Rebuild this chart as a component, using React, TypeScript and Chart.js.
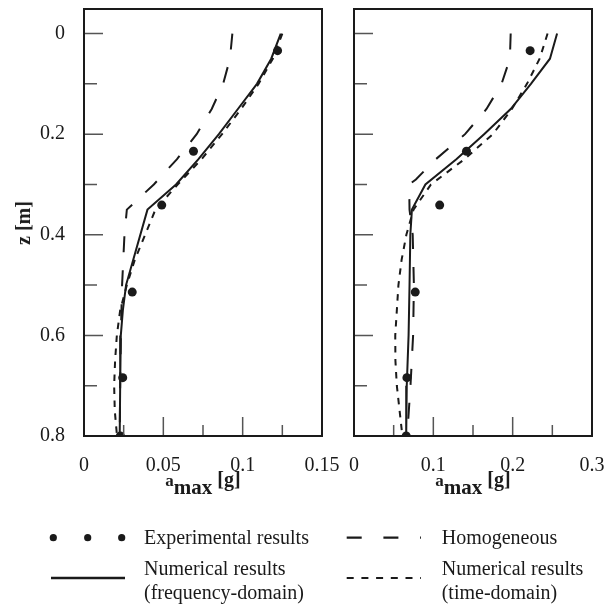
import React, { useEffect, useRef } from "react";
import { Chart, registerables } from "chart.js";

Chart.register(...registerables);

// ---------- data ----------
const depthExp = [0.034, 0.234, 0.341, 0.514, 0.684, 0.8];
const expLeft = [0.122, 0.069, 0.049, 0.0304, 0.0244, 0.0229];
const expRight = [0.222, 0.1418, 0.108, 0.0772, 0.0667, 0.0658];

const depthFreqLeft = [0, 0.05, 0.1, 0.15, 0.2, 0.25, 0.3, 0.35, 0.5, 0.55, 0.6, 0.7, 0.8];
const freqLeft = [0.124, 0.118, 0.109, 0.097, 0.085, 0.072, 0.058, 0.04, 0.0265, 0.0245, 0.0232, 0.0228, 0.0225];
const depthHomLeft = [0, 0.05, 0.1, 0.15, 0.2, 0.25, 0.3, 0.35, 0.4, 0.5, 0.6, 0.7, 0.8];
const homLeft = [0.0935, 0.092, 0.0877, 0.0805, 0.071, 0.0585, 0.044, 0.027, 0.0255, 0.024, 0.0232, 0.0228, 0.0225];
const depthTimeLeft = [0, 0.05, 0.1, 0.15, 0.2, 0.25, 0.3, 0.35, 0.4, 0.45, 0.5, 0.55, 0.6, 0.65, 0.7, 0.75, 0.8];
const timeLeft = [0.125, 0.119, 0.11, 0.099, 0.087, 0.074, 0.059, 0.045, 0.0385, 0.032, 0.027, 0.0228, 0.0207, 0.0196, 0.019, 0.0194, 0.0208];

const depthFreqRight = [0, 0.05, 0.1, 0.15, 0.2, 0.25, 0.3, 0.35, 0.4, 0.5, 0.6, 0.7, 0.8];
const freqRight = [0.256, 0.247, 0.223, 0.1975, 0.164, 0.129, 0.09, 0.073, 0.071, 0.07, 0.0688, 0.0665, 0.0658];
const depthHomRight = [0, 0.05, 0.1, 0.15, 0.2, 0.25, 0.29, 0.3, 0.35, 0.4, 0.5, 0.6, 0.7, 0.8];
const homRight = [0.1975, 0.1965, 0.186, 0.167, 0.14, 0.103, 0.078, 0.0695, 0.07, 0.074, 0.0755, 0.0745, 0.0712, 0.067];
const depthTimeRight = [0, 0.05, 0.1, 0.15, 0.2, 0.25, 0.3, 0.35, 0.4, 0.45, 0.5, 0.6, 0.65, 0.7, 0.75, 0.8];
const timeRight = [0.244, 0.234, 0.218, 0.199, 0.175, 0.139, 0.097, 0.075, 0.066, 0.06, 0.056, 0.052, 0.0522, 0.054, 0.0575, 0.061];

// ---------- axes ----------
const yTickLabels = [0, 0.2, 0.4, 0.6, 0.8];
const yMinorTicks = [0.1, 0.3, 0.5, 0.7];
const xTickLabelsLeft = [0, 0.05, 0.1, 0.15];
const xMajorLeft = [0.05, 0.1];
const xMinorLeft = [0.025, 0.075, 0.125];
const xTickLabelsRight = [0, 0.1, 0.2, 0.3];
const xMajorRight = [0.1, 0.2];
const xMinorRight = [0.05, 0.15, 0.25];

const seriesNames = [
  "Experimental results",
  "Numerical results (frequency-domain)",
  "Homogeneous",
  "Numerical results (time-domain)",
];

const SERIF = "'Liberation Serif', 'Times New Roman', serif";
const INK = "#1a1a1a";

const framePlugin = {
  id: "frame",
  afterDatasetsDraw(chart: any, _args: any, opts: any) {
    const { ctx, chartArea: a, scales } = chart;
    ctx.save();
    ctx.strokeStyle = "#555";
    ctx.lineWidth = 1.5;
    ctx.beginPath();
    for (const v of opts.yMajor) {
      const y = scales.y.getPixelForValue(v);
      ctx.moveTo(a.left, y);
      ctx.lineTo(a.left + 19, y);
    }
    for (const v of opts.yMinor) {
      const y = scales.y.getPixelForValue(v);
      ctx.moveTo(a.left, y);
      ctx.lineTo(a.left + 13, y);
    }
    for (const v of opts.xMajor) {
      const x = scales.x.getPixelForValue(v);
      ctx.moveTo(x, a.bottom);
      ctx.lineTo(x, a.bottom - 19);
    }
    for (const v of opts.xMinor) {
      const x = scales.x.getPixelForValue(v);
      ctx.moveTo(x, a.bottom);
      ctx.lineTo(x, a.bottom - 11);
    }
    ctx.stroke();
    ctx.strokeStyle = INK;
    ctx.lineWidth = 2;
    ctx.strokeRect(a.left, a.top, a.right - a.left, a.bottom - a.top);
    ctx.restore();
  },
};

function pts(xs: number[], ys: number[]) {
  return xs.map((x, i) => ({ x, y: ys[i] }));
}

function noOverflow(s: any) {
  s.paddingLeft = 0;
  s.paddingRight = 0;
  s.paddingTop = 0;
  s.paddingBottom = 0;
}

function makeConfig(p: any) {
  const tickFont = { family: SERIF, size: 20 };
  return {
    type: "scatter",
    data: {
      datasets: [
        {
          label: seriesNames[0],
          data: pts(p.exp, depthExp),
          showLine: false,
          pointRadius: 4.5,
          pointBackgroundColor: INK,
          pointBorderWidth: 0,
          order: 0,
        },
        {
          label: seriesNames[1],
          data: pts(p.freq, p.depthFreq),
          showLine: true,
          borderColor: INK,
          borderWidth: 2,
          pointRadius: 0,
          tension: 0,
          order: 1,
        },
        {
          label: seriesNames[2],
          data: pts(p.hom, p.depthHom),
          showLine: true,
          borderColor: INK,
          borderWidth: 2,
          borderDash: [16, 18],
          pointRadius: 0,
          tension: 0,
          order: 2,
        },
        {
          label: seriesNames[3],
          data: pts(p.time, p.depthTime),
          showLine: true,
          borderColor: INK,
          borderWidth: 2,
          borderDash: [6.5, 6.5],
          pointRadius: 0,
          tension: 0,
          order: 3,
        },
      ],
    },
    options: {
      responsive: false,
      animation: false,
      events: [],
      layout: { padding: p.padding },
      plugins: {
        legend: { display: false },
        tooltip: { enabled: false },
        frame: { yMajor: yTickLabels, yMinor: yMinorTicks, xMajor: p.xMajor, xMinor: p.xMinor },
      },
      scales: {
        x: {
          type: "linear",
          position: "bottom",
          min: 0,
          max: p.xMax,
          grid: { display: false, drawTicks: false },
          border: { display: false },
          ticks: {
            font: tickFont,
            color: INK,
            padding: 18,
            maxRotation: 0,
            autoSkip: false,
            callback: (v: number) => String(v),
          },
          afterBuildTicks: (s: any) => {
            s.ticks = p.xLabels.map((v: number) => ({ value: v }));
          },
          afterFit: (s: any) => {
            s.height = 40;
            noOverflow(s);
          },
        },
        y: {
          type: "linear",
          display: p.showY,
          min: -0.0488,
          max: 0.8,
          reverse: true,
          grid: { display: false, drawTicks: false },
          border: { display: false },
          ticks: {
            font: tickFont,
            color: INK,
            padding: 19,
            autoSkip: false,
            callback: (v: number) => String(v),
          },
          afterBuildTicks: (s: any) => {
            s.ticks = yTickLabels.map((v) => ({ value: v }));
          },
          afterFit: (s: any) => {
            s.width = p.showY ? 76 : 0;
            noOverflow(s);
          },
        },
      },
    },
    plugins: [framePlugin],
  };
}

export default function App() {
  const leftRef = useRef<HTMLCanvasElement>(null);
  const rightRef = useRef<HTMLCanvasElement>(null);

  useEffect(() => {
    const c1 = new Chart(
      leftRef.current as HTMLCanvasElement,
      makeConfig({
        exp: expLeft,
        freq: freqLeft,
        depthFreq: depthFreqLeft,
        hom: homLeft,
        depthHom: depthHomLeft,
        time: timeLeft,
        depthTime: depthTimeLeft,
        xMax: 0.15,
        xLabels: xTickLabelsLeft,
        xMajor: xMajorLeft,
        xMinor: xMinorLeft,
        showY: true,
        padding: { left: 8, top: 9, right: 23, bottom: 44 },
      }) as any
    );
    const c2 = new Chart(
      rightRef.current as HTMLCanvasElement,
      makeConfig({
        exp: expRight,
        freq: freqRight,
        depthFreq: depthFreqRight,
        hom: homRight,
        depthHom: depthHomRight,
        time: timeRight,
        depthTime: depthTimeRight,
        xMax: 0.3,
        xLabels: xTickLabelsRight,
        xMajor: xMajorRight,
        xMinor: xMinorRight,
        showY: false,
        padding: { left: 14, top: 9, right: 12, bottom: 44 },
      }) as any
    );
    return () => {
      c1.destroy();
      c2.destroy();
    };
  }, []);

  const text: React.CSSProperties = {
    position: "absolute",
    fontFamily: SERIF,
    fontSize: 20,
    color: INK,
    whiteSpace: "nowrap",
  };

  const xTitle = (left: number) => (
    <div
      style={{
        ...text,
        left,
        width: 238,
        top: 469,
        lineHeight: "20px",
        textAlign: "center",
        fontWeight: "bold",
      }}
    >
      <span style={{ fontSize: 17 }}>a</span>
      <span style={{ fontSize: 21, position: "relative", top: 8 }}>max</span>
      <span> [g]</span>
    </div>
  );

  return (
    <div
      style={{
        position: "absolute",
        left: 0,
        top: 0,
        width: 604,
        height: 608,
        background: "#fff",
        overflow: "hidden",
      }}
    >
      <canvas
        ref={leftRef}
        width={345}
        height={520}
        style={{ position: "absolute", left: 0, top: 0 }}
      />
      <canvas
        ref={rightRef}
        width={264}
        height={520}
        style={{ position: "absolute", left: 340, top: 0 }}
      />
      <div
        style={{
          ...text,
          left: 23,
          top: 223,
          fontWeight: "bold",
          lineHeight: "20px",
          transform: "translate(-50%, -50%) rotate(-90deg)",
        }}
      >
        z [m]
      </div>
      {xTitle(84)}
      {xTitle(354)}

      <svg
        width={604}
        height={608}
        style={{ position: "absolute", left: 0, top: 0, pointerEvents: "none" }}
      >
        <circle cx={53.3} cy={537.7} r={3.6} fill={INK} />
        <circle cx={87.7} cy={537.7} r={3.6} fill={INK} />
        <circle cx={121.7} cy={537.7} r={3.6} fill={INK} />
        <line x1={51} y1={578} x2={125} y2={578} stroke={INK} strokeWidth={2.3} />
        <line
          x1={346.7}
          y1={537.7}
          x2={421}
          y2={537.7}
          stroke={INK}
          strokeWidth={2.3}
          strokeDasharray="15 21.7"
        />
        <line
          x1={346.7}
          y1={578}
          x2={421}
          y2={578}
          stroke={INK}
          strokeWidth={2}
          strokeDasharray="7 7.7"
        />
      </svg>

      <div style={{ ...text, left: 144, top: 526, lineHeight: "23.5px" }}>{seriesNames[0]}</div>
      <div style={{ ...text, left: 441.7, top: 526, lineHeight: "23.5px" }}>{seriesNames[2]}</div>
      <div style={{ ...text, left: 144, top: 557.3, lineHeight: "23.5px" }}>
        Numerical results
        <br />
        (frequency-domain)
      </div>
      <div style={{ ...text, left: 441.7, top: 557.3, lineHeight: "23.5px" }}>
        Numerical results
        <br />
        (time-domain)
      </div>
    </div>
  );
}
